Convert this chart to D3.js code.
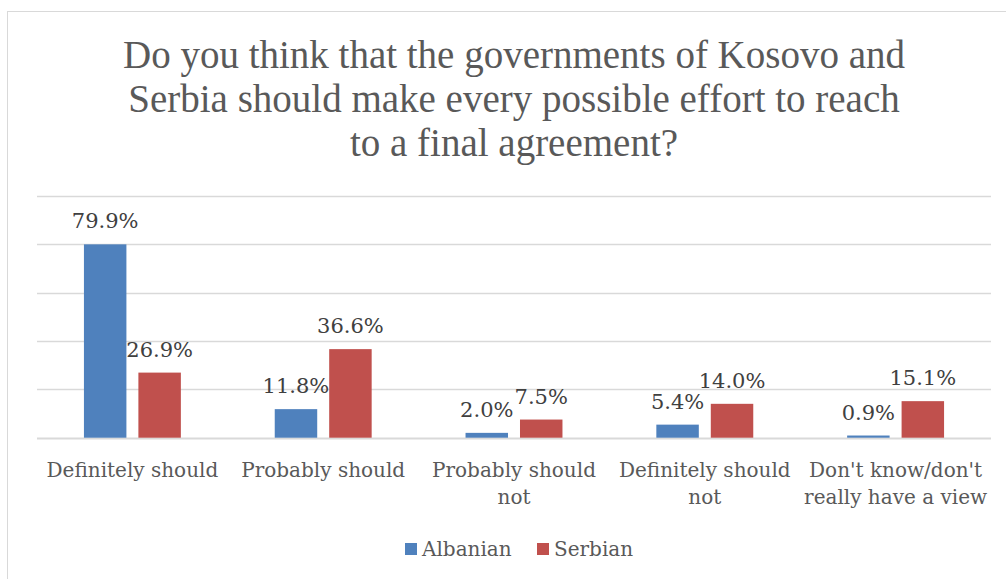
<!DOCTYPE html>
<html><head><meta charset="utf-8">
<script src="https://cdn.jsdelivr.net/npm/d3@7"></script>
<style>body{margin:0;background:#fff}svg{display:block}</style>
</head><body>
<svg id="c" width="1006" height="579"></svg>
<script>
const categories = ["Definitely should","Probably should","Probably should not","Definitely should not","Don't know/don't really have a view"];
const categoryLines = [["Definitely should"],["Probably should"],["Probably should","not"],["Definitely should","not"],["Don't know/don't","really have a view"]];
const series = ["Albanian","Serbian"];
const albanian = [79.9, 11.8, 2.0, 5.4, 0.9];
const serbian = [26.9, 36.6, 7.5, 14.0, 15.1];
const yTicks = [0,20,40,60,80,100];
const titleLines = ["Do you think that the governments of Kosovo and","Serbia should make every possible effort to reach","to a final agreement?"];

const colors = {Albanian:"#4f81bd", Serbian:"#c0504d"};
const values = {Albanian: albanian, Serbian: serbian};
const font = "'DejaVu Serif', serif";
const titleFont = "'Liberation Serif', serif";
const svg = d3.select("#c");

svg.append("rect").attr("x",7.5).attr("y",11.5).attr("width",1010).attr("height",580)
  .attr("fill","#fff").attr("stroke","#d9d9d9").attr("stroke-width",1);

const t = svg.append("text").attr("text-anchor","middle").attr("fill","#595959")
  .style("font-family",titleFont).style("font-size","39px");
titleLines.forEach((l,i)=> t.append("tspan").attr("x",514).attr("y",68+i*44).text(l));

const x0 = d3.scaleBand().domain(categories).range([37,991]);
const bw = x0.bandwidth();
const x1 = d3.scaleBand().domain(series).range([bw*0.246, bw*0.754]).paddingInner(0.22);
const y = d3.scaleLinear().domain([0,100]).range([437.7,195.7]);

svg.append("g").selectAll("line").data(yTicks).join("line")
  .attr("x1",37).attr("x2",991).attr("y1",d=>Math.round(y(d))+0.5).attr("y2",d=>Math.round(y(d))+0.5)
  .attr("stroke","#d9d9d9").attr("stroke-width",d=>d===0?2:1.5);

const data = [];
categories.forEach((c,i)=>series.forEach(s=>data.push({c, s, v: values[s][i]})));

svg.append("g").selectAll("rect").data(data).join("rect")
  .attr("x",d=>x0(d.c)+x1(d.s)).attr("width",x1.bandwidth())
  .attr("y",d=>y(d.v)).attr("height",d=>y(0)-y(d.v)).attr("fill",d=>colors[d.s]);

svg.append("g").selectAll("text").data(data).join("text")
  .attr("x",d=>x0(d.c)+x1(d.s)+x1.bandwidth()/2).attr("y",d=>y(d.v)-16)
  .attr("text-anchor","middle").attr("fill","#404040")
  .style("font-family",font).style("font-size","21px")
  .text(d=>d.v.toFixed(1)+"%");

const cl = svg.append("g").selectAll("text").data(categories).join("text")
  .attr("text-anchor","middle").attr("fill","#595959")
  .style("font-family",font).style("font-size","20px");
cl.each(function(c,i){
  const el = d3.select(this);
  categoryLines[i].forEach((l,j)=> el.append("tspan").attr("x",x0(c)+bw/2).attr("y",477+j*27).text(l));
});

const lg = svg.append("g");
const legendItems = [{s:"Albanian", x:405},{s:"Serbian", x:537}];
legendItems.forEach(it=>{
  lg.append("rect").attr("x",it.x).attr("y",543).attr("width",12).attr("height",12).attr("fill",colors[it.s]);
  lg.append("text").attr("x",it.x+17).attr("y",556).attr("fill","#595959")
    .style("font-family",font).style("font-size","20px").text(it.s);
});
</script>
</body></html>
